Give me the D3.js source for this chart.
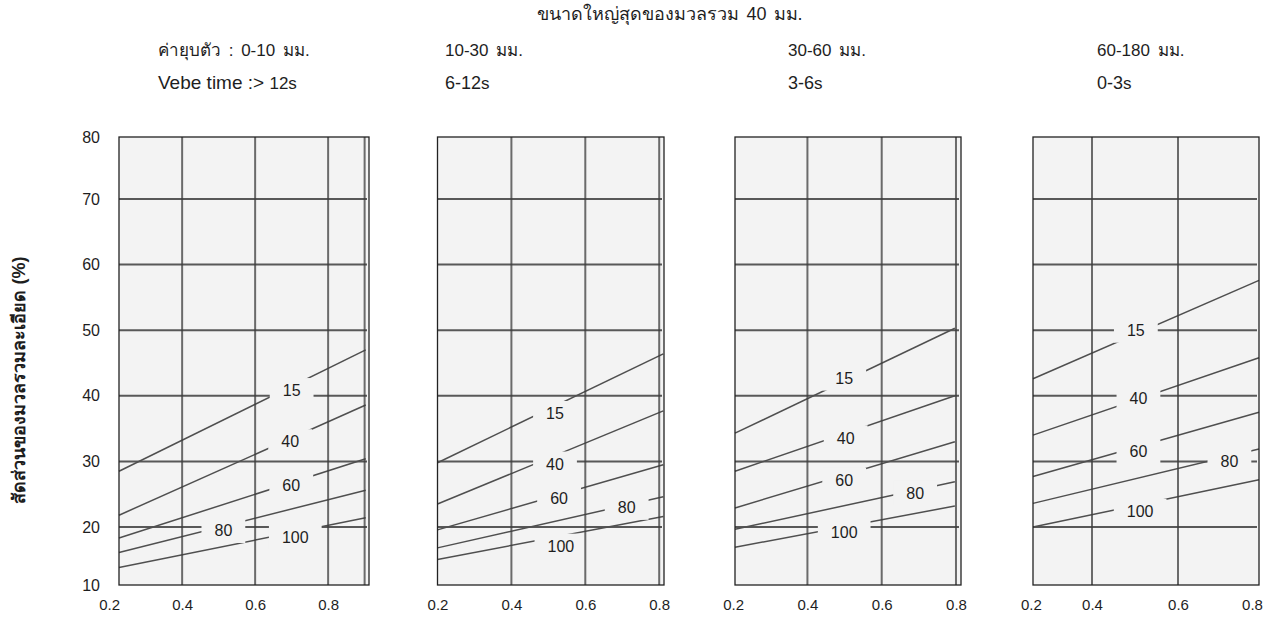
<!DOCTYPE html>
<html>
<head>
<meta charset="utf-8">
<script src="https://cdn.jsdelivr.net/npm/d3@7"></script>
<style>
  html, body { margin: 0; padding: 0; background: #ffffff; }
  svg { display: block; font-family: "Liberation Sans", Arial, "Noto Sans", sans-serif; }
</style>
</head>
<body>
<svg id="chart" width="1278" height="621"></svg>
<script>
// ---- data ----
const title = "ขนาดใหญ่สุดของมวลรวม 40 มม.";
const slumpLabels = ["ค่ายุบตัว : 0-10 มม.", "10-30 มม.", "30-60 มม.", "60-180 มม."];
const vebeLabels = ["Vebe time :> ", "6-12", "3-6", "0-3"];
const vebeSuffix = ["12s", "s", "s", "s"];
const yTitle = "สัดส่วนของมวลรวมละเอียด (%)";
const finesNames = ["15", "40", "60", "80", "100"];   // % passing 600 µm sieve
const xTicks = [0.2, 0.4, 0.6, 0.8];
const yTicks = [10, 20, 30, 40, 50, 60, 70, 80];
const yGrid = [20, 30, 40, 50, 60, 70];

// free water/cement ratio extents of each panel
const xExtent1 = [0.227, 0.912];
const xExtent2 = [0.2, 0.813];
const xExtent3 = [0.205, 0.8135];
const xExtent4 = [0.207, 0.819];
const xGrid1 = [0.4, 0.6, 0.8, 0.9];
const xGrid2 = [0.4, 0.6, 0.8];
const xGrid3 = [0.4, 0.6, 0.8];
const xGrid4 = [0.4, 0.6];

// fines proportion lines: [w/c start, % start, w/c end, % end], order follows finesNames
const lines1 = [[0.227, 28.5, 0.903, 47.0], [0.227, 21.8, 0.903, 38.6], [0.227, 18.1, 0.903, 30.4], [0.227, 15.6, 0.903, 25.6], [0.227, 13.0, 0.903, 21.4]];
const lines2 = [[0.2, 29.8, 0.811, 46.4], [0.2, 23.5, 0.811, 37.7], [0.2, 19.5, 0.811, 29.5], [0.2, 16.4, 0.811, 24.6], [0.2, 14.4, 0.811, 21.6]];
const lines3 = [[0.205, 34.3, 0.797, 50.3], [0.205, 28.5, 0.797, 40.0], [0.205, 22.9, 0.797, 33.0], [0.205, 19.6, 0.797, 26.9], [0.205, 16.5, 0.797, 23.2]];
const lines4 = [[0.207, 42.6, 0.819, 57.6], [0.207, 34.0, 0.819, 45.8], [0.207, 27.7, 0.819, 37.5], [0.207, 23.6, 0.819, 31.9], [0.207, 20.0, 0.819, 27.2]];

// where each line is named: [w/c, %]
const tags1 = [[0.700, 40.8], [0.696, 33.0], [0.699, 26.3], [0.513, 19.4], [0.710, 18.3]];
const tags2 = [[0.518, 37.3], [0.518, 29.6], [0.529, 24.4], [0.712, 23.0], [0.534, 16.7]];
const tags3 = [[0.499, 42.7], [0.503, 33.6], [0.499, 27.1], [0.690, 25.2], [0.499, 19.1]];
const tags4 = [[0.502, 50.0], [0.508, 39.7], [0.508, 31.5], [0.739, 30.0], [0.512, 22.4]];

// ---- layout ----
const svg = d3.select("#chart");
const plotTop = 137, plotBottom = 585;
const bg = "#f3f3f3";
const ink = "#1e1e1e";

const y = d3.scaleLinear().domain([10, 20, 70, 80]).range([plotBottom, 527, 199, plotTop]);

const panels = [
  { x: d3.scaleLinear().domain(xExtent1).range([119, 369]), grid: xGrid1, lines: lines1, tags: tags1 },
  { x: d3.scaleLinear().domain(xExtent2).range([437.5, 664]), grid: xGrid2, lines: lines2, tags: tags2 },
  { x: d3.scaleLinear().domain(xExtent3).range([735, 961]), grid: xGrid3, lines: lines3, tags: tags3 },
  { x: d3.scaleLinear().domain([xExtent4[0], 0.4, 0.6, xExtent4[1]]).range([1033, 1092, 1178, 1259]), grid: xGrid4, lines: lines4, tags: tags4 }
];

panels.forEach((p, i) => {
  const x = p.x;
  const r = x.range();
  const x0 = r[0], x1 = r[r.length - 1];
  const g = svg.append("g").attr("class", "panel");

  g.append("rect").attr("x", x0).attr("y", plotTop).attr("width", x1 - x0).attr("height", plotBottom - plotTop)
    .attr("fill", bg);

  // horizontal grid
  g.selectAll(".hg").data(yGrid).join("line").attr("class", "hg")
    .attr("x1", x0).attr("x2", x1 - 2).attr("y1", d => y(d)).attr("y2", d => y(d))
    .attr("stroke", "#3c3c3c").attr("stroke-width", 2).attr("stroke-opacity", 0.85);

  // fines lines
  g.selectAll(".fl").data(p.lines).join("line").attr("class", "fl")
    .attr("x1", d => x(d[0])).attr("y1", d => y(d[1]))
    .attr("x2", d => x(d[2])).attr("y2", d => y(d[3]))
    .attr("stroke", "#4f4f4f").attr("stroke-width", 1.5);

  // line names, each cut into the drawing
  const tg = g.selectAll(".tag").data(p.tags).join("g").attr("class", "tag")
    .attr("transform", d => `translate(${x(d[0])},${y(d[1])})`);
  tg.append("text").text((d, k) => finesNames[k])
    .attr("text-anchor", "middle").attr("dy", "0.36em")
    .attr("font-size", 16).attr("fill", ink);
  tg.each(function () {
    const t = d3.select(this).select("text");
    const w = t.node().getComputedTextLength();
    d3.select(this).insert("rect", "text")
      .attr("x", -w / 2 - 13).attr("y", -12.5).attr("width", w + 26).attr("height", 25)
      .attr("fill", bg);
  });

  // vertical grid, unbroken
  g.selectAll(".vg").data(p.grid).join("line").attr("class", "vg")
    .attr("x1", d => x(d)).attr("x2", d => x(d)).attr("y1", plotTop).attr("y2", plotBottom)
    .attr("stroke", "#3c3c3c").attr("stroke-width", 2).attr("stroke-opacity", 0.75);

  // frame
  g.append("rect").attr("x", x0).attr("y", plotTop).attr("width", x1 - x0).attr("height", plotBottom - plotTop)
    .attr("fill", "none").attr("stroke", "#222").attr("stroke-width", 1.3);

  // x axis labels
  const xa = svg.append("g").attr("transform", `translate(0,${plotBottom})`)
    .call(d3.axisBottom(x).tickValues(xTicks).tickSize(0).tickPadding(14).tickFormat(d3.format(".1f")));
  xa.select(".domain").remove();
  xa.selectAll("text").attr("font-size", 15).attr("fill", ink).attr("font-family", null);

  // column headings
  const hx = [158, 445, 788, 1097][i];
  svg.append("text").attr("x", hx).attr("y", 56).text(slumpLabels[i])
    .attr("font-size", 17).attr("word-spacing", 3).attr("fill", ink);
  const vt = svg.append("text").attr("x", hx).attr("y", 89).attr("font-size", 18).attr("fill", ink);
  vt.append("tspan").text(vebeLabels[i]).attr("font-size", i === 0 ? 19 : 18).attr("font-weight", i === 0 ? 300 : null);
  vt.append("tspan").text(vebeSuffix[i]).attr("font-size", 17);
});

// y axis on the first panel
const ya = svg.append("g").attr("transform", "translate(119,0)")
  .call(d3.axisLeft(y).tickValues(yTicks).tickSize(0).tickPadding(19));
ya.select(".domain").remove();
ya.selectAll("text").attr("font-size", 16).attr("fill", ink).attr("font-family", null);

svg.append("text").attr("x", 670).attr("y", 20).attr("text-anchor", "middle")
  .attr("font-size", 18).attr("word-spacing", 2).attr("fill", ink).text(title);

svg.append("text").attr("transform", "translate(25,380) rotate(-90)").attr("text-anchor", "middle")
  .attr("font-size", 18).attr("font-weight", "bold").attr("fill", ink).text(yTitle);
</script>
</body>
</html>
